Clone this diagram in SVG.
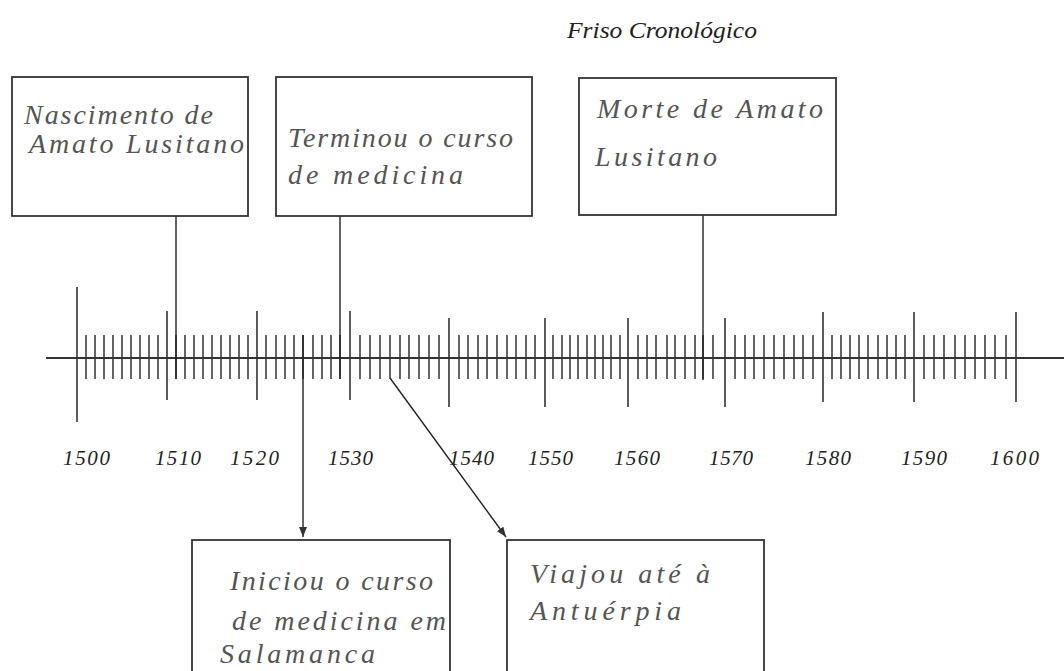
<svg xmlns="http://www.w3.org/2000/svg" width="1064" height="671" viewBox="0 0 1064 671">
<style>
.box{fill:#fff;stroke:#333;stroke-width:1.8}
.hand{font-family:"Liberation Serif",serif;font-style:italic;font-size:28px;fill:#555}
.year{font-family:"Liberation Serif",serif;font-style:italic;font-size:21px;fill:#222}
.title{font-family:"Liberation Serif",serif;font-style:italic;font-size:23px;fill:#222}
.axis{stroke:#333;stroke-width:2;fill:none}
.minor{stroke:#333;stroke-width:1.5}
.dec{stroke:#333;stroke-width:1.6}
.con{stroke:#222;stroke-width:1.4;fill:none}
</style>
<defs>
<marker id="arr" viewBox="0 0 10 8" refX="10" refY="4" markerWidth="10" markerHeight="8" markerUnits="userSpaceOnUse" orient="auto">
<path d="M0,0 L10,4 L0,8 z" fill="#333"/>
</marker>
</defs>
<rect width="1064" height="671" fill="#fff"/>
<text class="title" x="567" y="38" textLength="190" lengthAdjust="spacingAndGlyphs">Friso Cronológico</text>

<g id="timeline">
<line class="axis" x1="46" y1="358" x2="1064" y2="358"/>
<g class="dec">
<line x1="77" y1="287" x2="77" y2="422"/>
<line x1="167" y1="311" x2="167" y2="400"/>
<line x1="257" y1="311" x2="257" y2="400"/>
<line x1="350" y1="311" x2="350" y2="400"/>
<line x1="449" y1="318" x2="449" y2="407"/>
<line x1="545" y1="318" x2="545" y2="407"/>
<line x1="628" y1="318" x2="628" y2="407"/>
<line x1="725" y1="318" x2="725" y2="407"/>
<line x1="823" y1="312" x2="823" y2="402"/>
<line x1="914" y1="312" x2="914" y2="402"/>
<line x1="1016" y1="312" x2="1016" y2="402"/>
</g>
<path class="minor" d="M86,335V379M95,335V379M104,335V379M113,335V379M122,335V379M131,335V379M140,335V379M149,335V379M158,335V379
M176,335V379M185,335V379M194,335V379M203,335V379M212,335V379M221,335V379M230,335V379M239,335V379M248,335V379
M266,335V379M276,335V379M285,335V379M294,335V379M303,335V379M313,335V379M322,335V379M331,335V379M340,335V379
M360,335V379M370,335V379M380,335V379M390,335V379M400,335V379M409,335V379M419,335V379M429,335V379M439,335V379
M459,335V379M468,335V379M478,335V379M487,335V379M497,335V379M507,335V379M516,335V379M526,335V379M535,335V379
M553,335V379M562,335V379M570,335V379M578,335V379M587,335V379M595,335V379M603,335V379M611,335V379M620,335V379
M638,335V379M647,335V379M656,335V379M667,335V379M675,335V379M685,335V379M695,335V379M703,335V379M713,335V379
M735,335V379M745,335V379M754,335V379M764,335V379M774,335V379M784,335V379M794,335V379M803,335V379M813,335V379
M832,335V379M841,335V379M850,335V379M859,335V379M868,335V379M878,335V379M887,335V379M896,335V379M905,335V379
M924,335V379M934,335V379M944,335V379M955,335V379M965,335V379M975,335V379M985,335V379M995,335V379M1006,335V379"/>
<g class="year">
<text x="63" y="465" textLength="47">1500</text>
<text x="155" y="465" textLength="46">1510</text>
<text x="230" y="465" textLength="49">1520</text>
<text x="328" y="465" textLength="45">1530</text>
<text x="449" y="465" textLength="45">1540</text>
<text x="528" y="465" textLength="45">1550</text>
<text x="614" y="465" textLength="46">1560</text>
<text x="709" y="465" textLength="44">1570</text>
<text x="805" y="465" textLength="46">1580</text>
<text x="901" y="465" textLength="46">1590</text>
<text x="990" y="465" textLength="49">1600</text>
</g>
</g>

<g id="connectors">
<line class="con" x1="176" y1="216" x2="176" y2="379"/>
<line class="con" x1="340" y1="216" x2="340" y2="379"/>
<line class="con" x1="703" y1="215" x2="703" y2="380"/>
<line class="con" x1="303" y1="335" x2="303" y2="537" marker-end="url(#arr)"/>
<line class="con" x1="390" y1="378" x2="506" y2="537" marker-end="url(#arr)"/>
</g>

<g id="node-nascimento">
<rect class="box" x="12" y="77" width="236" height="139"/>
<text class="hand" x="24" y="124" textLength="189">Nascimento de</text>
<text class="hand" x="29" y="153" textLength="215">Amato Lusitano</text>
</g>
<g id="node-terminou">
<rect class="box" x="276" y="77" width="256" height="139"/>
<text class="hand" x="288" y="147" textLength="225">Terminou o curso</text>
<text class="hand" x="288" y="184" textLength="175">de medicina</text>
</g>
<g id="node-morte">
<rect class="box" x="579" y="78" width="257" height="137"/>
<text class="hand" x="597" y="118" textLength="226">Morte de Amato</text>
<text class="hand" x="595" y="166" textLength="122">Lusitano</text>
</g>
<g id="node-iniciou">
<rect class="box" x="192" y="540" width="258" height="140"/>
<text class="hand" x="230" y="590" textLength="203">Iniciou o curso</text>
<text class="hand" x="232" y="630" textLength="214">de medicina em</text>
<text class="hand" x="220" y="663" textLength="155">Salamanca</text>
</g>
<g id="node-viajou">
<rect class="box" x="507" y="540" width="257" height="140"/>
<text class="hand" x="530" y="583" textLength="180">Viajou até à</text>
<text class="hand" x="530" y="620" textLength="151">Antuérpia</text>
</g>
</svg>
